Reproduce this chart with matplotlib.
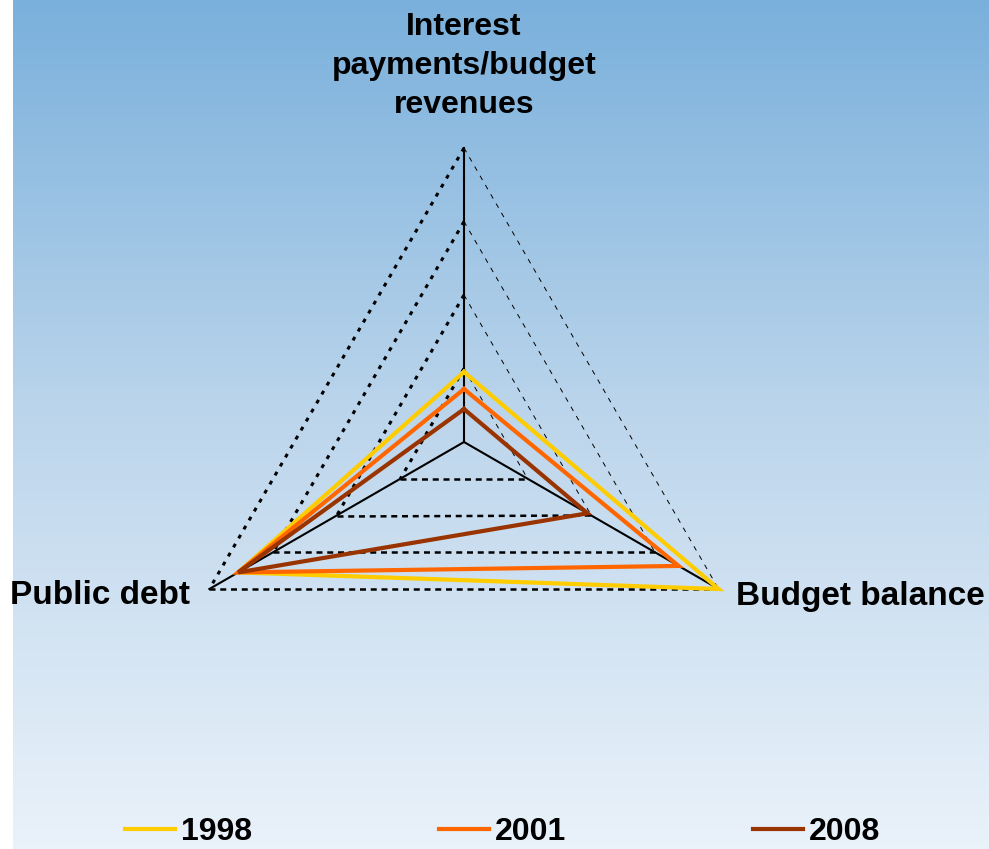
import numpy as np
import matplotlib
matplotlib.use('Agg')
import matplotlib.pyplot as plt
from matplotlib.colors import LinearSegmentedColormap

# ---- data ----
categories = ['Interest\npayments/budget\nrevenues', 'Budget balance', 'Public debt']
years = ['1998', '2001', '2008']
v1998 = [0.238, 1.0, 0.887]
v2001 = [0.18, 0.843, 0.887]
v2008 = [0.112, 0.485, 0.887]
series = [v1998, v2001, v2008]
colors = ['#FFCC00', '#FF6600', '#993300']
grid_levels = [0.25, 0.5, 0.75, 1.0]

plt.rcParams['font.family'] = ['Liberation Sans', 'DejaVu Sans']

W, H = 989, 849
cx, cy, R = 464, 442, 294.0

fig = plt.figure(figsize=(W / 100, H / 100), dpi=100)
ax = fig.add_axes([0, 0, 1, 1])
ax.set_xlim((0 - cx) / R, (W - cx) / R)
ax.set_ylim((cy - H) / R, cy / R)
ax.axis('off')

# background gradient
grad = LinearSegmentedColormap.from_list('bg', [(0, '#7AB0DC'), (0.5, '#BDD6EC'), (1, '#EAF2FA')])
g = np.linspace(0, 1, 256).reshape(-1, 1)
ax.imshow(g, cmap=grad, aspect='auto', extent=[(13 - cx) / R, (W - cx) / R, (cy - H) / R, cy / R],
          origin='upper', zorder=0)

angles = np.deg2rad([90, -30, 210])

def pts(vals):
    v = np.asarray(vals, dtype=float)
    return v * np.cos(angles), v * np.sin(angles)

# grid rings
for r in grid_levels:
    x, y = pts([r, r, r])
    # top -> left: thick dotted
    ax.plot([x[0], x[2]], [y[0], y[2]], color='black', lw=2.2, linestyle=(0, (1.3, 2.1)), zorder=2)
    # top -> right: thin dashed
    ax.plot([x[0], x[1]], [y[0], y[1]], color='black', lw=0.7, linestyle=(0, (5, 6)), zorder=2)
    # left -> right: dashed
    ax.plot([x[2], x[1]], [y[2], y[1]], color='black', lw=1.8, linestyle=(0, (2.4, 1.9)), zorder=2)

# spokes
xe, ye = pts([1, 1, 1])
for i in range(3):
    ax.plot([0, xe[i]], [0, ye[i]], color='black', lw=1.5, zorder=3)

# series
for vals, col, yr in zip(series, colors, years):
    x, y = pts(vals)
    ax.plot(np.append(x, x[0]), np.append(y, y[0]), color=col, lw=3, zorder=4,
            solid_joinstyle='miter', label=yr)

# category labels
ax.text(0, (cy - 66) / R, categories[0], ha='center', va='center', fontsize=23,
        fontweight='bold', linespacing=1.38, zorder=5)
ax.text((736 - cx) / R, (cy - 596) / R, categories[1], ha='left', va='center', fontsize=24,
        fontweight='bold', zorder=5)
ax.text((190 - cx) / R, (cy - 596) / R, categories[2], ha='right', va='center', fontsize=24,
        fontweight='bold', zorder=5)

leg = ax.legend(loc='center', bbox_to_anchor=(503 / W, 1 - 832 / H), bbox_transform=fig.transFigure,
                ncol=3, frameon=False, handlelength=1.55, handletextpad=0.2,
                columnspacing=5.85, prop={'weight': 'bold', 'size': 23})
for line in leg.get_lines():
    line.set_linewidth(3)

fig.savefig('out.png', dpi=100)
